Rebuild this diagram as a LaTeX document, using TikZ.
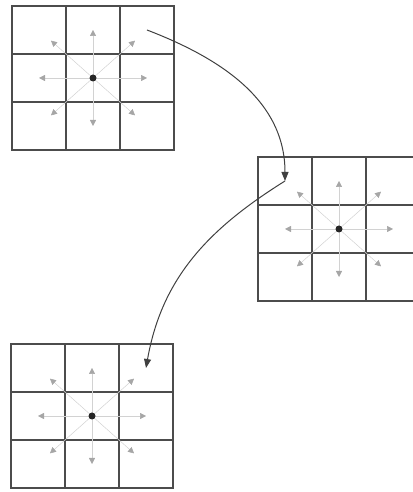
\documentclass[tikz,border=0pt]{standalone}
\usepackage{tikz}
\usetikzlibrary{positioning,arrows.meta}

\newcommand{\stategrid}[2]{%
  \node[cell, anchor=north west] (#1-nw) at (#2) {};
  \node[cell, right=of #1-nw] (#1-n) {};
  \node[cell, right=of #1-n] (#1-ne) {};
  \node[cell, below=of #1-nw] (#1-w) {};
  \node[cell, right=of #1-w] (#1-c) {};
  \node[cell, right=of #1-c] (#1-e) {};
  \node[cell, below=of #1-w] (#1-sw) {};
  \node[cell, right=of #1-sw] (#1-s) {};
  \node[cell, right=of #1-s] (#1-se) {};
  \foreach \d in {n,s,e,w}
    \draw[move] (#1-c.center) -- (#1-\d.center);
  \foreach \d in {nw,ne,sw,se}
    \draw[move, shorten >=16pt] (#1-c.center) -- (#1-\d.center);
  \node[dot] (#1-dot) at (#1-c.center) {};
}

\begin{document}
\begin{tikzpicture}[x=1pt, y=1pt, node distance=0pt,
    cell/.style={draw=black!70, line width=1.3pt, rectangle, minimum width=54pt, minimum height=48pt, inner sep=0pt, outer sep=0pt},
    dot/.style={circle, fill=black!85, minimum size=7pt, inner sep=0pt},
    move/.style={gray!35, line width=0.5pt, -{Triangle[length=6pt, width=6pt, color=gray!70]}},
    jump/.style={black!75, line width=1pt, -{Triangle[length=9pt, width=7pt]}}]
    \useasboundingbox (0,0) rectangle (412,492);

    \stategrid{one}{12,486}
    \stategrid{two}{258,335}
    \stategrid{three}{11,148}

    \draw[jump] (one-ne.center) to[out=-21, in=90] (two-nw.center);
    \draw[jump] (two-nw.center) to[out=212, in=80] (three-ne.center);
\end{tikzpicture}
\end{document}
